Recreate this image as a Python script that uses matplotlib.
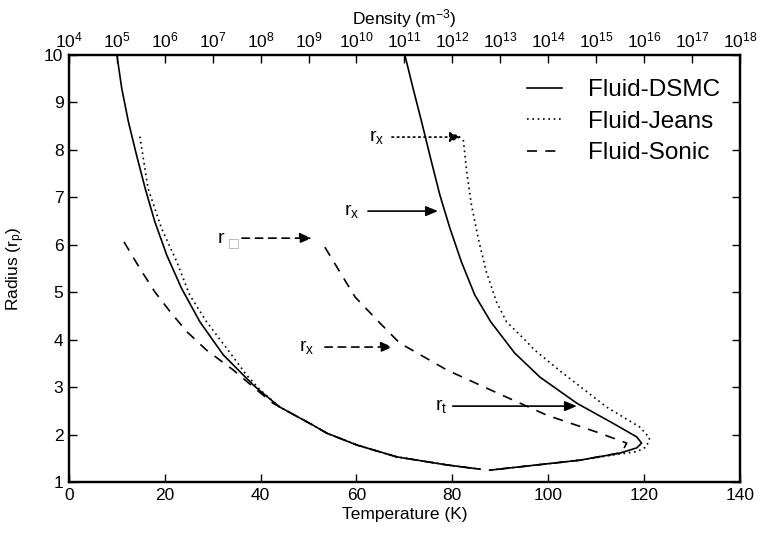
import matplotlib.pyplot as plt
from matplotlib.ticker import LogLocator, NullLocator, MultipleLocator

plt.rcParams['font.family'] = ['Liberation Sans', 'DejaVu Sans']
plt.rcParams['mathtext.fontset'] = 'custom'
plt.rcParams['mathtext.rm'] = 'Liberation Sans'
plt.rcParams['mathtext.it'] = 'Liberation Sans'
plt.rcParams['mathtext.default'] = 'regular'

# temperature profiles (bottom axis, K)
r_temp_dsmc = [10.0, 9.30, 8.59, 7.89, 7.05, 6.35, 5.64, 4.94, 4.38, 3.72, 3.21, 2.66,
               2.24, 1.95, 1.82, 1.72, 1.61, 1.46, 1.25]
temp_dsmc = [70.1, 71.8, 73.6, 75.3, 77.4, 79.5, 81.9, 84.7, 88.0, 93.0, 98.3, 106.0,
             113.5, 118.5, 119.5, 118.5, 115.0, 106.6, 87.8]

r_temp_jeans = [8.21, 7.54, 6.84, 6.14, 5.43, 4.80, 4.38, 3.96, 3.78, 3.30, 2.58, 2.16,
                1.93, 1.74, 1.64, 1.60, 1.46, 1.25]
temp_jeans = [82.3, 83.0, 84.0, 85.4, 87.1, 89.2, 91.3, 95.5, 97.2, 103.0, 112.2, 119.1,
              121.2, 120.5, 118.5, 115.5, 106.6, 87.8]

r_temp_sonic = [5.95, 4.90, 4.35, 3.93, 3.36, 2.88, 2.41, 2.05, 1.82, 1.62, 1.46, 1.25]
temp_sonic = [53.4, 59.7, 64.9, 69.0, 78.9, 89.3, 99.7, 110.2, 116.4, 115.3, 106.6, 87.8]

# density profiles (top axis, m^-3)
r_dens_dsmc = [10.0, 9.30, 8.59, 7.89, 7.19, 6.49, 5.78, 5.08, 4.38, 3.68, 3.04, 2.87,
               2.58, 2.20, 2.03, 1.78, 1.53, 1.36, 1.27]
dens_dsmc = [1.0e5, 1.26e5, 1.74e5, 2.57e5, 3.89e5, 6.17e5, 1.10e6, 2.24e6, 5.37e6,
             1.66e7, 7.08e7, 1.12e8, 2.51e8, 1.23e9, 2.40e9, 1.02e10, 6.92e10, 7.76e11,
             3.80e12]

r_dens_jeans = [8.28, 7.19, 6.35, 5.64, 4.94, 4.38, 3.82, 3.25, 2.94, 2.58, 2.20, 2.03,
                1.78, 1.53, 1.36, 1.27]
dens_jeans = [3.02e5, 4.47e5, 8.51e5, 1.78e6, 3.31e6, 7.41e6, 1.95e7, 5.13e7, 9.77e7,
              2.51e8, 1.23e9, 2.40e9, 1.02e10, 6.92e10, 7.76e11, 3.80e12]

r_dens_sonic = [6.06, 5.50, 5.01, 4.59, 4.17, 3.78, 3.36, 2.94, 2.66, 2.58, 2.20, 2.03,
                1.78, 1.53, 1.36, 1.27]
dens_sonic = [1.41e5, 3.02e5, 6.17e5, 1.29e6, 2.88e6, 7.41e6, 2.69e7, 8.32e7, 1.82e8,
              2.51e8, 1.23e9, 2.40e9, 1.02e10, 6.92e10, 7.76e11, 3.80e12]

labels = ['Fluid-DSMC', 'Fluid-Jeans', 'Fluid-Sonic']

lw = 1.2
dotted = (0, (1, 2.2))
dashed = (0, (6, 5))

fig = plt.figure(figsize=(7.58, 5.36), dpi=100)
ax = fig.add_axes([0.091, 0.1007, 0.885, 0.7967])
ax2 = ax.twiny()

ax.plot(temp_dsmc, r_temp_dsmc, color='black', lw=lw, label=labels[0])
ax.plot(temp_jeans, r_temp_jeans, color='black', lw=lw, linestyle=dotted, label=labels[1])
ax.plot(temp_sonic, r_temp_sonic, color='black', lw=lw, linestyle=dashed, label=labels[2])

ax2.plot(dens_dsmc, r_dens_dsmc, color='black', lw=lw)
ax2.plot(dens_jeans, r_dens_jeans, color='black', lw=lw, linestyle=dotted)
ax2.plot(dens_sonic, r_dens_sonic, color='black', lw=lw, linestyle=dashed)

ax.set_xlim(0, 140)
ax.set_ylim(1, 10)
ax.xaxis.set_major_locator(MultipleLocator(20))
ax.yaxis.set_major_locator(MultipleLocator(1))
ax2.set_xscale('log')
ax2.set_xlim(1e4, 1e18)
ax2.xaxis.set_major_locator(LogLocator(base=10, numticks=20))
ax2.xaxis.set_minor_locator(NullLocator())

ax.tick_params(direction='in', length=6, width=1, labelsize=12.5, right=True, top=False, pad=4)
ax2.tick_params(direction='in', length=6, width=1, labelsize=12.5, pad=3)
for a in (ax, ax2):
    for s in a.spines.values():
        s.set_linewidth(1.6)

ax.set_xlabel('Temperature (K)', fontsize=12.5, labelpad=3)
ax.set_ylabel('Radius (r$_p$)', fontsize=12.5, labelpad=12)
ax2.set_xlabel('Density (m$^{-3}$)', fontsize=12.5, labelpad=5)

# arrows marking the characteristic radii
def marker_arrow(tail, tip, r, style):
    ax.annotate('', xy=(tip, r), xytext=(tail, r),
                arrowprops=dict(arrowstyle='-|>,head_length=0.6,head_width=0.25',
                                mutation_scale=12, color='black', lw=1.2,
                                linestyle=style, shrinkA=0, shrinkB=0))

marker_arrow(67.4, 82.0, 8.27, dotted)
ax.text(65.9, 8.27, 'r$_x$', fontsize=14, ha='right', va='center')
marker_arrow(62.4, 77.0, 6.71, '-')
ax.text(60.5, 6.71, 'r$_x$', fontsize=14, ha='right', va='center')
marker_arrow(36.1, 50.7, 6.14, (0, (4.5, 3.5)))
ax.text(31.1, 6.14, 'r', fontsize=14, ha='left', va='center')
ax.text(33.2, 6.05, '\u25a1', fontsize=9, color='#aaaaaa', ha='left', va='center',
        family='DejaVu Sans')
marker_arrow(53.4, 67.6, 3.845, (0, (4.5, 3.5)))
ax.text(51.3, 3.845, 'r$_x$', fontsize=14, ha='right', va='center')
marker_arrow(80.1, 106.0, 2.60, '-')
ax.text(78.9, 2.60, 'r$_t$', fontsize=14, ha='right', va='center')

leg = ax2.legend(*ax.get_legend_handles_labels(), loc='upper right', frameon=False,
                 fontsize=17.5, handlelength=1.45, handletextpad=1.1, labelspacing=0.4,
                 bbox_to_anchor=(1.004, 0.995))

fig.savefig('out.png', dpi=100)
